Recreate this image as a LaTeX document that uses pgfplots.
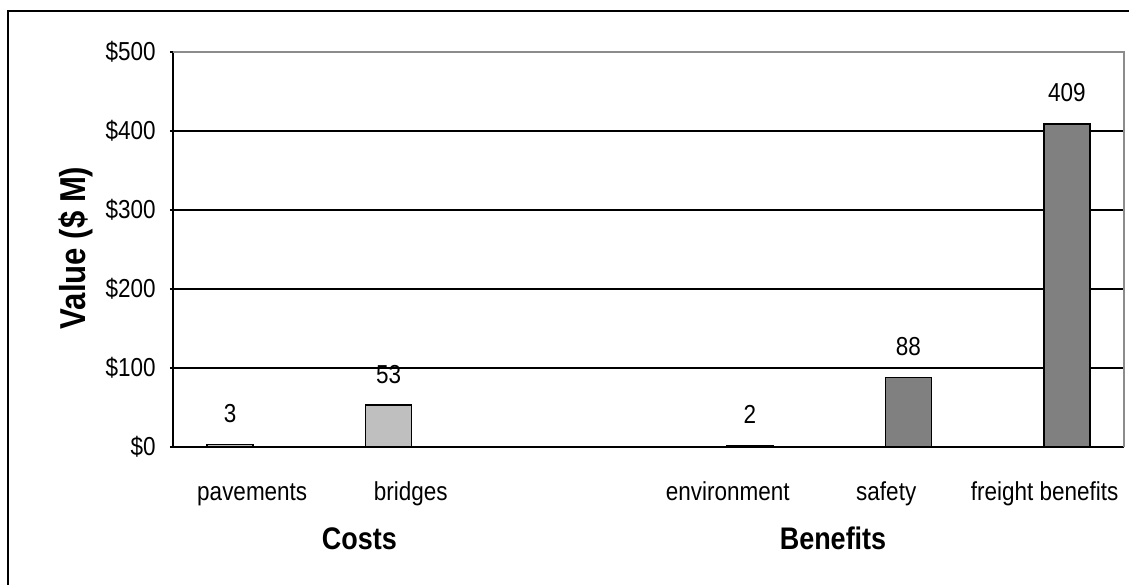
\documentclass[border=0pt]{standalone}
\usepackage{pgfplots}
\pgfplotsset{compat=1.18}
\usepackage{fontspec}
\setmainfont{Liberation Sans}[FakeStretch=0.865]
\definecolor{costbar}{HTML}{BFBFBF}
\definecolor{benefitbar}{HTML}{808080}
\definecolor{frameline}{HTML}{8C8C8C}
\newcommand{\labelfont}{\fontsize{19.5}{22}\selectfont}
\begin{document}
\begin{tikzpicture}
\useasboundingbox (0,0) rectangle (846.75pt,438.75pt);
% chart frame
\draw[line width=1.5pt] (6pt,0pt) -- (6pt,430.2pt) -- (846.75pt,430.2pt);
\begin{axis}[
  at={(129.75pt,103.5pt)}, anchor=south west,
  scale only axis, width=713.25pt, height=296.25pt,
  xmin=-0.5, xmax=5.5, ymin=0, ymax=500,
  axis line style={draw=none},
  clip=false,
  tick align=outside,
  ytick pos=left,
  major tick length=2.25pt,
  ytick style={black, line width=1pt},
  xtick style={draw=none},
  ytick={0,100,200,300,400,500},
  yticklabels={\$0,\$100,\$200,\$300,\$400,\$500},
  ymajorgrids, grid style={black, line width=1pt},
  xtick={0,1,3,4,5},
  xticklabels={pavements,bridges,environment,safety,freight benefits},
  ticklabel style={font=\labelfont},
  yticklabel style={anchor=east, inner sep=0pt, xshift=-10.5pt},
  xticklabel style={anchor=base, inner sep=0pt, yshift=-38.25pt},
  ybar, bar width=0.29,
  nodes near coords,
  /pgf/number format/assume math mode=true,
  every node near coord/.append style={font=\labelfont, anchor=base, inner sep=0pt, yshift=16.5pt},
]
\addplot[fill=costbar, draw=black, line width=1pt, bar shift=-0.14]
  coordinates {(0,3) (1,53)};
\addplot[fill=benefitbar, draw=black, line width=1pt, bar shift=0.14]
  coordinates {(3,2) (4,88) (5,409)};
\draw[black, line width=1pt] (rel axis cs:0,1) -- (rel axis cs:0,0) -- (rel axis cs:1,0);
\draw[frameline, line width=1pt] (rel axis cs:0,1) -- (rel axis cs:1,1) -- (rel axis cs:1,0);
\end{axis}
\node[anchor=base, rotate=90, font=\bfseries\fontsize{27}{30}\selectfont] at (64pt,252.75pt) {Value (\$ M)};
\node[anchor=base, font=\bfseries\fontsize{23.4}{26}\selectfont] at (269.6pt,26.25pt) {Costs};
\node[anchor=base, font=\bfseries\fontsize{23.4}{26}\selectfont] at (624.75pt,26.25pt) {Benefits};
\end{tikzpicture}
\end{document}
